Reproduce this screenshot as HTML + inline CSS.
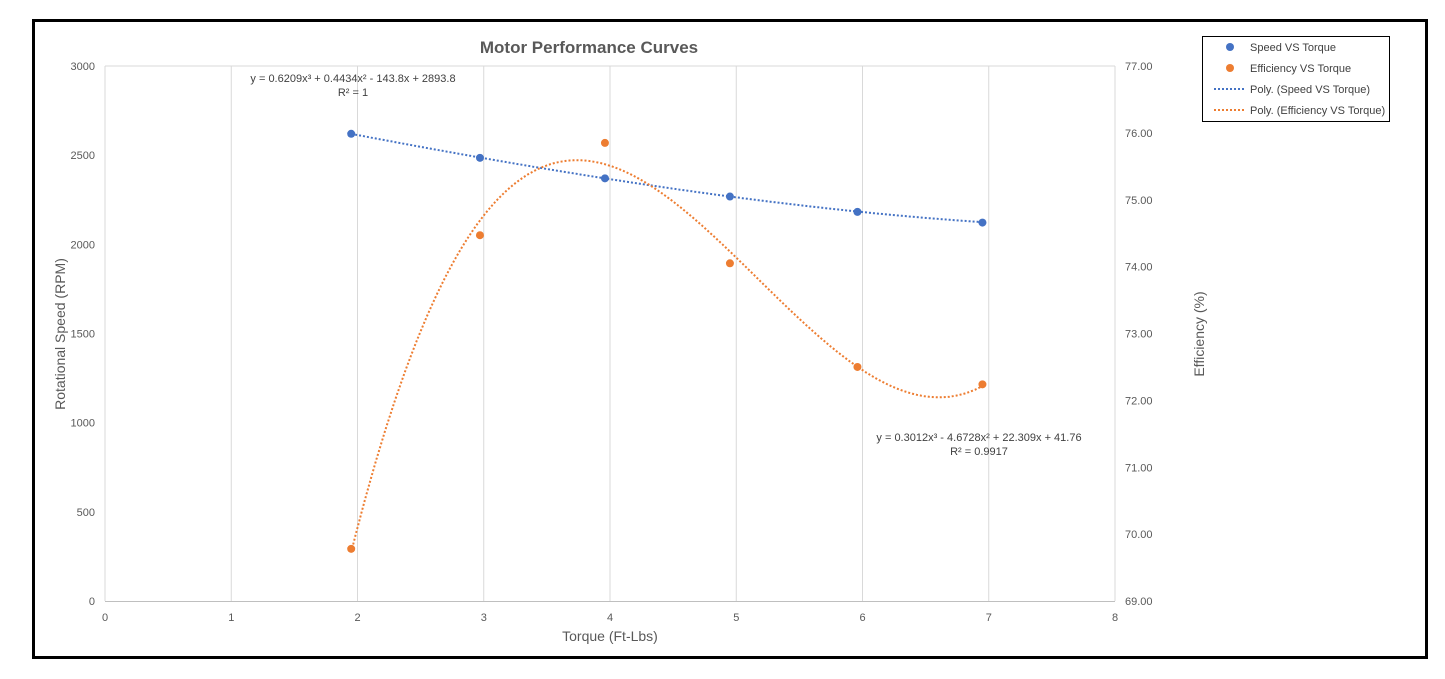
<!DOCTYPE html>
<html><head><meta charset="utf-8"><style>
body{margin:0;background:#fff;}
svg{display:block;font-family:"Liberation Sans",sans-serif;}
</style></head><body>
<svg id="s" width="1445" height="679" xmlns="http://www.w3.org/2000/svg">
<rect x="0" y="0" width="1445" height="679" fill="#fff"/>
<rect x="33.5" y="20.5" width="1393" height="637" fill="none" stroke="#000" stroke-width="3"/>
<g id="grid" stroke="#d9d9d9" stroke-width="1"></g>
<line x1="105" y1="66" x2="1115" y2="66" stroke="#d9d9d9"/>
<line x1="105" y1="601.5" x2="1115" y2="601.5" stroke="#bfbfbf"/>
<text x="589" y="53" font-size="17" font-weight="bold" fill="#595959" text-anchor="middle">Motor Performance Curves</text>
<g font-size="11" fill="#595959" text-anchor="end" id="yl"></g>
<g font-size="11" fill="#595959" text-anchor="start" id="yr"></g>
<g font-size="11" fill="#595959" text-anchor="middle" id="xl"></g>
<text x="610" y="641" font-size="14" fill="#595959" text-anchor="middle">Torque (Ft-Lbs)</text>
<text transform="translate(65,334) rotate(-90)" font-size="14" fill="#595959" text-anchor="middle">Rotational Speed (RPM)</text>
<text transform="translate(1204,334) rotate(-90)" font-size="14" fill="#595959" text-anchor="middle">Efficiency (%)</text>
<text x="353" y="82" font-size="11" fill="#404040" text-anchor="middle">y = 0.6209x³ + 0.4434x² - 143.8x + 2893.8</text>
<text x="353" y="96" font-size="11" fill="#404040" text-anchor="middle">R² = 1</text>
<text x="979" y="441" font-size="11" fill="#404040" text-anchor="middle">y = 0.3012x³ - 4.6728x² + 22.309x + 41.76</text>
<text x="979" y="455" font-size="11" fill="#404040" text-anchor="middle">R² = 0.9917</text>
<polyline id="c1" fill="none" stroke="#4472c4" stroke-width="2" stroke-dasharray="2,2"/>
<polyline id="c2" fill="none" stroke="#ed7d31" stroke-width="2" stroke-dasharray="2,2"/>
<g id="pts"></g>
<rect x="1202.5" y="36.5" width="187" height="85" fill="#fff" stroke="#000" stroke-width="1"/>
<circle cx="1230" cy="47" r="4" fill="#4472c4"/>
<circle cx="1230" cy="68" r="4" fill="#ed7d31"/>
<line x1="1214" y1="89" x2="1245" y2="89" stroke="#4472c4" stroke-width="2" stroke-dasharray="2,2"/>
<line x1="1214" y1="110" x2="1245" y2="110" stroke="#ed7d31" stroke-width="2" stroke-dasharray="2,2"/>
<g font-size="11" fill="#404040">
<text x="1250" y="51">Speed VS Torque</text>
<text x="1250" y="72">Efficiency VS Torque</text>
<text x="1250" y="93">Poly. (Speed VS Torque)</text>
<text x="1250" y="114">Poly. (Efficiency VS Torque)</text>
</g>
</svg>
<script>
var NS="http://www.w3.org/2000/svg";
function el(p,t,a,txt){var e=document.createElementNS(NS,t);for(var k in a)e.setAttribute(k,a[k]);if(txt!=null)e.textContent=txt;document.getElementById(p).appendChild(e);}
function X(x){return 105+x*126.25;}
function YS(v){return 601-v*535/3000;}
function YE(e){return 601-(e-69)*66.875;}
for(var i=0;i<=8;i++){el("grid","line",{x1:X(i),y1:66,x2:X(i),y2:601});el("xl","text",{x:X(i),y:621},i);}
for(var v=0;v<=3000;v+=500){el("yl","text",{x:95,y:YS(v)+4},v);}
for(var e=69;e<=77;e++){el("yr","text",{x:1125,y:YE(e)+4},e.toFixed(2));}
var p1=[],p2=[];
for(var x=1.95;x<=6.951;x+=0.02){
 var s=0.6209*x*x*x+0.4434*x*x-143.8*x+2893.8;
 var f=0.3012*x*x*x-4.6728*x*x+22.309*x+41.76;
 p1.push(X(x).toFixed(1)+","+YS(s).toFixed(1));p2.push(X(x).toFixed(1)+","+YE(f).toFixed(1));}
document.getElementById("c1").setAttribute("points",p1.join(" "));
document.getElementById("c2").setAttribute("points",p2.join(" "));
var sp=[[1.95,2620],[2.97,2485],[3.96,2370],[4.95,2268],[5.96,2182],[6.95,2122]];
var ef=[[1.95,69.78],[2.97,74.47],[3.96,75.85],[4.95,74.05],[5.96,72.5],[6.95,72.24]];
sp.forEach(function(p){el("pts","circle",{cx:X(p[0]),cy:YS(p[1]),r:4,fill:"#4472c4"});});
ef.forEach(function(p){el("pts","circle",{cx:X(p[0]),cy:YE(p[1]),r:4,fill:"#ed7d31"});});
</script>
</body></html>
